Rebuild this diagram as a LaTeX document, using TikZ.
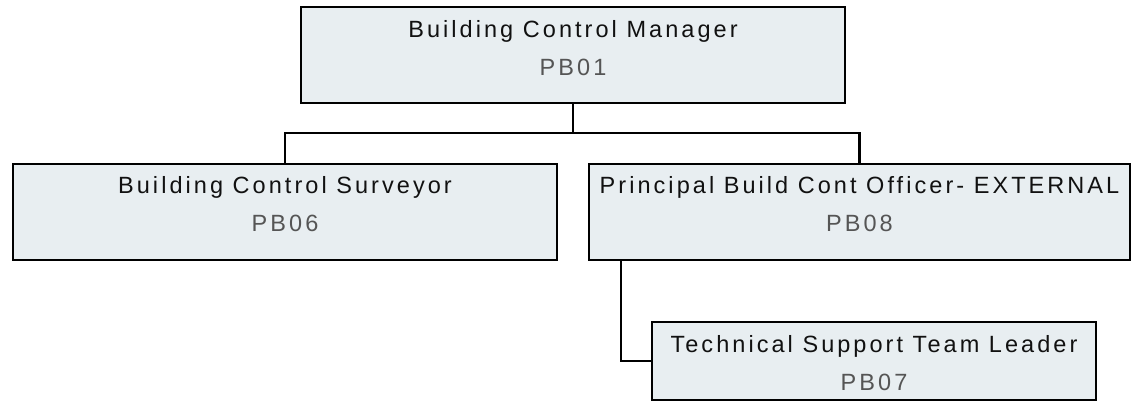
\documentclass[tikz,border=0pt]{standalone}
\usepackage{fontspec}
\usepackage{xcolor}
\usepackage{tikz}
\newfontfamily\chartfont[LetterSpace=13]{Liberation Sans}
\definecolor{postfill}{HTML}{E8EEF1}
\definecolor{codegray}{HTML}{555555}
\definecolor{titleblack}{HTML}{111111}

\begin{document}
\begin{tikzpicture}[x=1pt, y=-1pt,
    every node/.style={font=\chartfont\fontsize{23.5pt}{38pt}\selectfont, text=titleblack},
    postbox/.style={draw, line width=2.8pt, fill=postfill, anchor=north west, align=center,
        inner xsep=0pt, inner ysep=0pt, outer sep=0pt, text height=68pt, text depth=28pt},
    link/.style={line width=2.8pt}]
    \useasboundingbox (0,0) rectangle (1131,402);

    % Draw the manager at the top
    \node[postbox, minimum width=544pt] (mgr) at (301,7)
        {Building Control Manager\\\textcolor{codegray}{PB01}};

    % Draw the two posts below the manager
    \node[postbox, minimum width=544pt, text height=67.5pt, text depth=28.5pt] (surv) at (13,164)
        {Building Control Surveyor\\\textcolor{codegray}{PB06}};
    \node[postbox, minimum width=541pt, text height=67.5pt, text depth=28.5pt] (pbco) at (589,164)
        {Principal Build Cont Officer- EXTERNAL\\\textcolor{codegray}{PB08}};

    % Draw the team leader under the external officer
    \node[postbox, minimum width=444pt, text depth=10pt] (tech) at (652,322)
        {Technical Support Team Leader\\\textcolor{codegray}{PB07}};

    % Connect the posts
    \coordinate (bus) at (573,133);
    \draw[link] (mgr.south) -- (mgr.south |- bus) -| (surv.north);
    \draw[link] (mgr.south |- bus) -| (pbco.north);
    \coordinate (drop) at ([xshift=32pt]pbco.south west);
    \draw[link] (drop) |- (tech.west);
\end{tikzpicture}
\end{document}
